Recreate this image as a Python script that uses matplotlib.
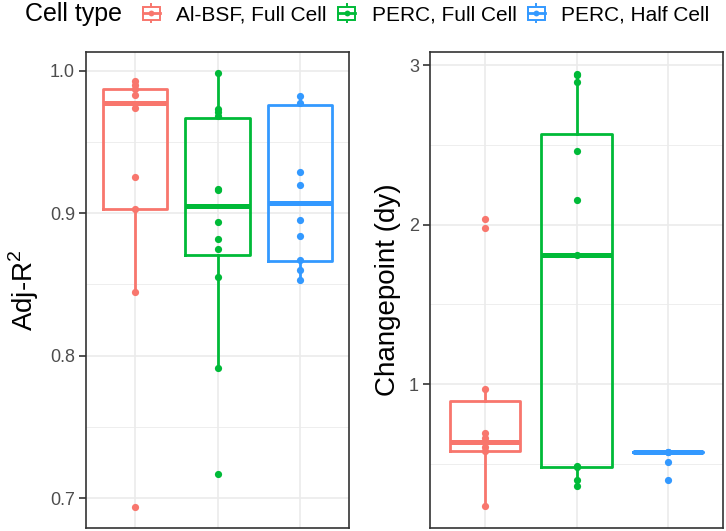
import matplotlib
matplotlib.use("Agg")
import matplotlib.pyplot as plt
from matplotlib.legend_handler import HandlerBase
from matplotlib.lines import Line2D
from matplotlib.patches import Rectangle

plt.rcParams["font.family"] = ["Liberation Sans", "DejaVu Sans"]
plt.rcParams["mathtext.fontset"] = "custom"
plt.rcParams["mathtext.rm"] = "Liberation Sans"

# Cell types and colours
cell_types = ["Al-BSF, Full Cell", "PERC, Full Cell", "PERC, Half Cell"]
colors = ["#F8766D", "#00BA38", "#3399FF"]

# Adj-R^2 panel: points and box stats (q1, median, q3, whisker low, whisker high)
r2_points = [
    [0.993, 0.9895, 0.9867, 0.9825, 0.9734, 0.925, 0.903, 0.8445, 0.694],
    [0.998, 0.973, 0.971, 0.968, 0.917, 0.916, 0.894, 0.882, 0.875, 0.855, 0.791, 0.717],
    [0.982, 0.977, 0.9287, 0.9196, 0.895, 0.8837, 0.8667, 0.860, 0.8527],
]
r2_q1 = [0.9028, 0.8706, 0.866]
r2_med = [0.9774, 0.905, 0.907]
r2_q3 = [0.9867, 0.967, 0.976]
r2_wlo = [0.8445, 0.791, 0.8527]
r2_whi = [0.993, 0.998, 0.982]

# Changepoint panel
cp_points = [
    [2.036, 1.977, 0.969, 0.691, 0.662, 0.636, 0.604, 0.58, 0.233],
    [2.948, 2.94, 2.898, 2.46, 2.155, 1.81, 0.486, 0.48, 0.40, 0.36],
    [0.577, 0.577, 0.513, 0.40],
]
cp_q1 = [0.583, 0.479, 0.577]
cp_med = [0.636, 1.81, 0.577]
cp_q3 = [0.896, 2.57, 0.577]
cp_wlo = [0.233, 0.36, 0.577]
cp_whi = [0.969, 2.948, 0.577]

fig = plt.figure(figsize=(7.26, 5.31), dpi=100)
W, H = 726, 531
ax1 = fig.add_axes([86 / W, 3 / H, 263 / W, 476 / H])
ax2 = fig.add_axes([430 / W, 3 / H, 293 / W, 476 / H])


def draw_panel(ax, points, q1, med, q3, wlo, whi, width):
    for i in range(3):
        st = [dict(q1=q1[i], med=med[i], q3=q3[i], whislo=wlo[i], whishi=whi[i], fliers=[])]
        ax.bxp(st, positions=[i + 1], widths=width, showfliers=False, showcaps=False,
               boxprops=dict(color=colors[i], linewidth=2.0),
               whiskerprops=dict(color=colors[i], linewidth=2.0),
               medianprops=dict(color=colors[i], linewidth=3.6, solid_capstyle="butt"),
               zorder=3)
        ax.plot([i + 1] * len(points[i]), points[i], "o", color=colors[i], ms=5.2,
                mec="none", zorder=4)
    ax.set_xlim(0.4, 3.6)
    ax.set_xticks([1, 2, 3])
    ax.set_xticklabels([])
    ax.tick_params(axis="x", length=0)
    ax.tick_params(axis="y", length=5, width=1.2, color="#333333", labelcolor="#4D4D4D",
                   labelsize=13, pad=3)
    ax.grid(True, which="major", color="#EBEBEB", linewidth=1.2, zorder=0)
    ax.grid(True, which="minor", axis="y", color="#EBEBEB", linewidth=0.6, zorder=0)
    ax.tick_params(axis="y", which="minor", length=0)
    ax.set_axisbelow(True)
    for s in ax.spines.values():
        s.set_color("#333333")
        s.set_linewidth(1.2)


draw_panel(ax1, r2_points, r2_q1, r2_med, r2_q3, r2_wlo, r2_whi, 0.78)
ax1.set_ylim(0.679, 1.013)
ax1.set_yticks([0.7, 0.8, 0.9, 1.0])
ax1.set_yticklabels(["0.7", "0.8", "0.9", "1.0"])
ax1.set_yticks([0.75, 0.85, 0.95], minor=True)
ax1.set_ylabel("Adj-R$^{2}$", fontsize=20, labelpad=6)

draw_panel(ax2, cp_points, cp_q1, cp_med, cp_q3, cp_wlo, cp_whi, 0.77)
ax2.set_ylim(0.097, 3.084)
ax2.set_yticks([1, 2, 3])
ax2.set_yticks([0.5, 1.5, 2.5], minor=True)
ax2.set_ylabel("Changepoint (dy)", fontsize=20, labelpad=6)


class BoxHandler(HandlerBase):
    def create_artists(self, legend, orig_handle, xdescent, ydescent, width, height,
                       fontsize, trans):
        c = orig_handle.get_color()
        x0, y0 = -xdescent, -ydescent
        cx, cy = x0 + width / 2, y0 + height / 2
        bw, bh = width * 0.8, height * 0.7
        arts = [
            Line2D([cx, cx], [y0, y0 + height], color=c, lw=1.4),
            Rectangle((cx - bw / 2, cy - bh / 2), bw, bh, fill=True, fc="white", ec=c, lw=1.4),
            Line2D([cx - bw / 2, cx + bw / 2], [cy, cy], color=c, lw=2.0),
            Line2D([cx], [cy], marker="o", ms=4.2, color=c, mec="none"),
        ]
        for a in arts:
            a.set_transform(trans)
        return arts


handles = [Line2D([], [], color=c) for c in colors]
fig.text(25 / W, 1 - 14 / H, "Cell type", fontsize=18, va="center", ha="left")
fig.legend(handles, cell_types, loc="center left", bbox_to_anchor=(141 / W, 1 - 14 / H),
           ncol=3, frameon=False, fontsize=15, handler_map={Line2D: BoxHandler()},
           handlelength=1.0, handleheight=1.0, handletextpad=0.7, columnspacing=0.45,
           borderaxespad=0, borderpad=0)

fig.savefig("out.png", dpi=100)
